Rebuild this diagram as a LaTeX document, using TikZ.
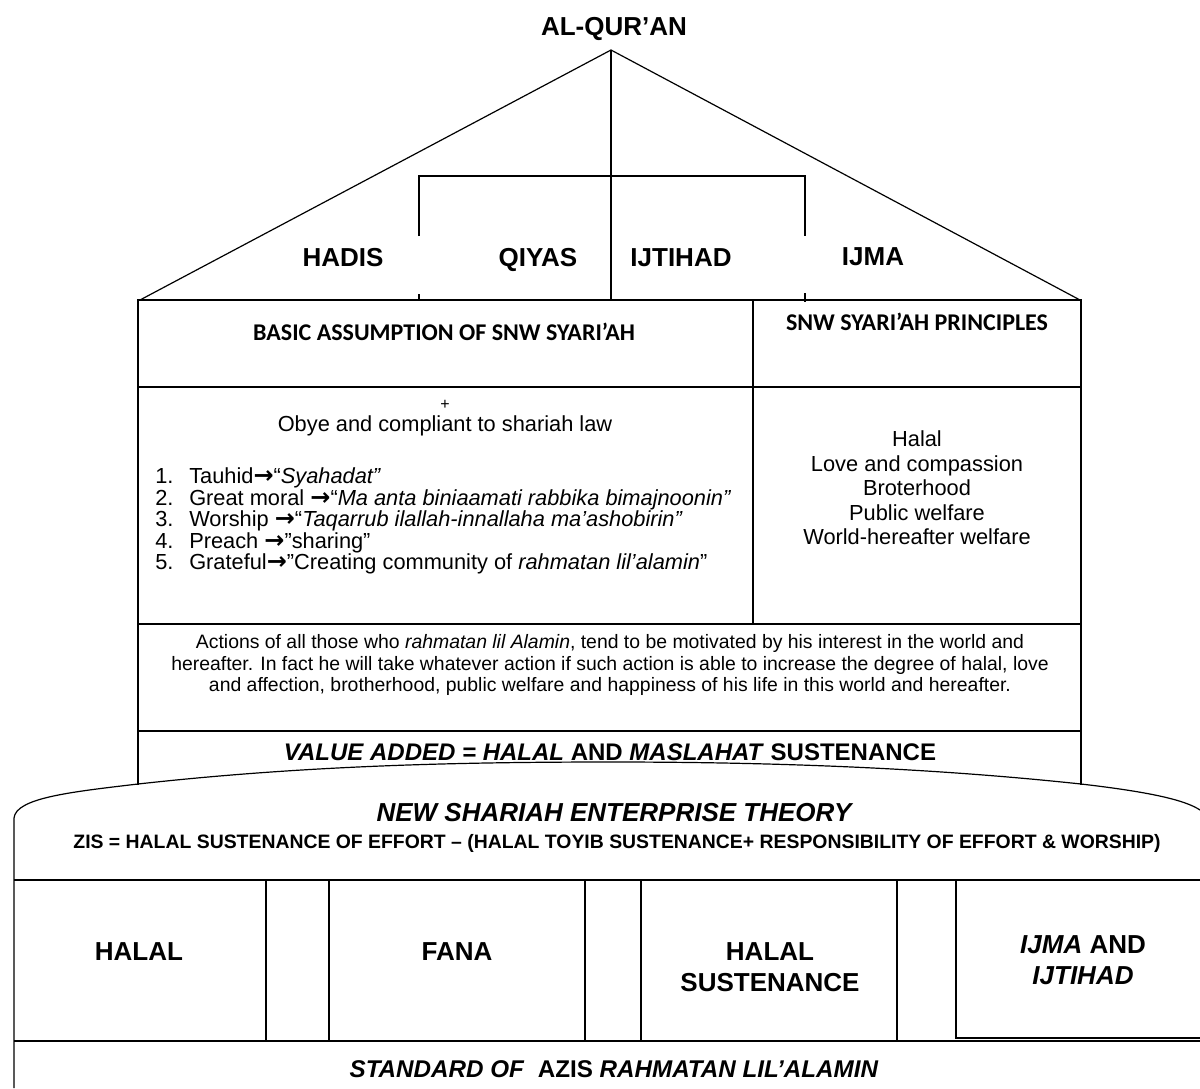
\documentclass[tikz,border=0pt]{standalone}
\usepackage{fontspec}
\setmainfont{Liberation Sans}
\newfontfamily\calibri{Carlito}
\newfontfamily\dejavu{DejaVu Sans}
\newcommand{\goesto}{{\dejavu\bfseries\fontsize{12}{10}\selectfont →}}

\begin{document}
\begin{tikzpicture}[x=0.5pt,y=-0.5pt,line width=0.6pt,
    head/.style={font=\bfseries\fontsize{13}{15.5}\selectfont,align=center},
    roof/.style={head,anchor=base},
    cal/.style={font=\calibri\bfseries\fontsize{12}{14}\selectfont},
    body/.style={font=\fontsize{10.9}{10.75}\selectfont}]
    \useasboundingbox (0,0) rectangle (1200,1088);
    % roof
    \node[roof] (quran) at (614,35) {AL-QUR’AN};
    \coordinate (apex) at (611,50);
    \coordinate (eaveL) at (140,300);
    \coordinate (eaveR) at (1080,300);
    \coordinate (mid) at (611,300);
    \draw (eaveL) -- (apex) -- (eaveR);
    \draw (apex) -- (mid);
    \draw (419,236) -- (419,176) -- (805,176) -- (805,236);
    \draw (419,294) -- (419,300);
    \draw (805,293) -- (805,302);
    \node[roof] (hadis) at (343,266) {HADIS};
    \node[roof] (qiyas) at (538,266) {QIYAS};
    \node[roof] (ijtihad) at (681,266) {IJTIHAD};
    \node[roof] (ijma) at (873,265) {IJMA};
    % body of the house
    \draw (138,785) -- (138,300) -- (1081,300) -- (1081,785);
    \draw (138,387) -- (1081,387);
    \draw (138,624) -- (1081,624);
    \draw (138,731) -- (1081,731);
    \draw (753,300) -- (753,624);
    \node[cal] (basic) at (444,332) {BASIC ASSUMPTION OF SNW SYARI’AH};
    \node[cal] (principles) at (917,322) {SNW SYARI’AH PRINCIPLES};
    \node[font=\fontsize{8}{9}\selectfont] (plus) at (445,405) {+};
    \node[body] (obey) at (445,426) {Obye and compliant to shariah law};
    \node[body,align=left,anchor=west] (pillars) at (148,521) {%
        \makebox[17pt][l]{1.}Tauhid\goesto“\textit{Syahadat”}\\
        \makebox[17pt][l]{2.}Great moral \goesto“\textit{Ma anta biniaamati rabbika bimajnoonin”}\\
        \makebox[17pt][l]{3.}Worship \goesto“\textit{Taqarrub ilallah-innallaha ma’ashobirin”}\\
        \makebox[17pt][l]{4.}Preach \goesto”sharing”\\
        \makebox[17pt][l]{5.}Grateful\goesto”Creating community of \textit{rahmatan lil’alamin}”};
    \node[font=\fontsize{10.9}{12.25}\selectfont,align=center] (values) at (917,488)
        {Halal\\Love and compassion\\Broterhood\\Public welfare\\World-hereafter welfare};
    \node[font=\fontsize{9.7}{10.75}\selectfont,align=center] (actions) at (610,665)
        {Actions of all those who \textit{rahmatan lil Alamin}, tend to be motivated by his interest in the world and\\
        hereafter. In fact he will take whatever action if such action is able to increase the degree of halal, love\\
        and affection, brotherhood, public welfare and happiness of his life in this world and hereafter.};
    \node[font=\bfseries\fontsize{12}{14}\selectfont] (added) at (610,752)
        {\textit{VALUE ADDED = HALAL} AND \textit{MASLAHAT} SUSTENANCE};
    % foundation
    \draw (14,1088) -- (14,818) .. controls (16,798) and (70,792) .. (138,784)
        .. controls (300,766) and (450,762) .. (611,762)
        .. controls (800,762) and (950,770) .. (1081,784)
        .. controls (1150,792) and (1185,800) .. (1200,810);
    \node[font=\bfseries\itshape\fontsize{13}{15}\selectfont] (nset) at (614,813) {NEW SHARIAH ENTERPRISE THEORY};
    \node[font=\bfseries\fontsize{9.7}{11}\selectfont] (zis) at (617,843)
        {ZIS = HALAL SUSTENANCE OF EFFORT – (HALAL TOYIB SUSTENANCE+ RESPONSIBILITY OF EFFORT \& WORSHIP)};
    \draw (14,880) -- (1200,880);
    \draw (14,1041) -- (1200,1041);
    \foreach \x in {266,329,585,641,897}
        \draw (\x,880) -- (\x,1041);
    \draw (1205,1038) -- (956,1038) -- (956,880);
    \node[head] (halal) at (139,952) {HALAL};
    \node[head] (fana) at (457,952) {FANA};
    \node[head] (sustenance) at (770,967) {HALAL\\SUSTENANCE};
    \node[head] (consensus) at (1083,960) {\textit{IJMA} AND\\\textit{IJTIHAD}};
    \node[font=\bfseries\fontsize{12.1}{14}\selectfont] (standard) at (614,1069)
        {\textit{STANDARD OF}\ \ AZIS \textit{RAHMATAN LIL’ALAMIN}};
\end{tikzpicture}
\end{document}
